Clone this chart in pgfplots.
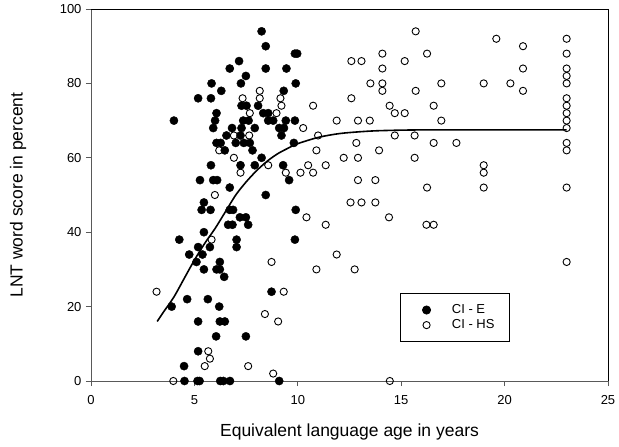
\documentclass[border=0pt]{standalone}
\usepackage{fontspec}
\setmainfont{Liberation Sans}
\usepackage{pgfplots}
\pgfplotsset{compat=1.18}
\begin{document}
\begin{tikzpicture}
\path[use as bounding box] (-91pt,-66pt) rectangle (528pt,381pt);
\begin{axis}[
 at={(0pt,0pt)}, anchor=south west,
 scale only axis, width=517pt, height=372pt,
 xmin=0, xmax=25, ymin=0, ymax=100,
 xtick={0,5,...,25}, ytick={0,20,...,100},
 tick align=outside, xtick pos=bottom, ytick pos=left,
 major tick length=5pt,
 tick style={black!65, line width=0.8pt},
 axis line style={black!65, line width=0.8pt},
 tick label style={font=\fontsize{13}{15}\selectfont},
 xticklabel style={yshift=-6pt},
 yticklabel style={xshift=-1pt},
 /pgf/number format/assume math mode=true,
 xlabel={Equivalent language age in years},
 ylabel={LNT word score in percent},
 label style={font=\fontsize{17.5}{20}\selectfont},
 xlabel style={at={(axis description cs:0.5,-0.1371)}, anchor=center},
 ylabel style={at={(axis description cs:-0.1412,0.5)}, anchor=center},
 clip=false,
 legend style={at={(axis cs:14.93,23.7)}, anchor=north west, draw=black, line width=0.8pt,
   font=\fontsize{13}{15}\selectfont, inner xsep=13pt, inner ysep=9.5pt, row sep=0.5pt,
   /tikz/every odd column/.append style={column sep=10pt}},
 legend cell align=left,
 legend image code/.code={\path (0pt,0pt) (26pt,0pt); \draw[#1] plot coordinates {(13pt,0pt)};},
]
% CI - E (filled)
\addplot[only marks, mark=*, mark size=4.1pt, mark options={fill=black, draw=black}] coordinates {
(5.83,80) (6.3,78) (5.18,76) (5.8,76) (6.07,72) (4.01,70) (6.0,70)
(5.91,68) (6.07,64) (6.27,64) (5.8,58) (5.27,54) (5.91,54) (6.1,54)
(5.46,48) (5.35,46) (5.78,46) (5.46,40) (4.27,38) (5.18,36) (5.75,36)
(4.75,34) (5.39,34) (5.1,32) (5.46,30) (6.07,30) (6.23,30) (3.9,20)
(4.65,22) (5.65,22) (6.2,20) (5.18,16) (6.23,16) (6.47,16) (6.05,12)
(5.18,8) (4.5,4) (4.52,0) (5.15,0) (5.25,0) (6.25,0) (6.4,0) (6.72,0) (9.1,0)
(8.25,94) (8.45,90) (9.86,88) (9.97,88) (7.16,86) (6.71,84) (8.45,84) (9.45,84)
(7.49,82) (7.25,80) (9.9,80) (9.32,78) (7.28,74) (7.52,74) (8.08,74)
(8.33,72) (8.57,72) (7.36,70) (7.62,70) (8.57,70) (8.81,70) (9.42,70) (9.86,70)
(6.82,68) (7.28,68) (7.92,68) (9.1,68) (9.33,68)
(9.21,66) (6.55,66) (7.23,66) (7.0,64) (7.39,64) (7.68,64) (9.81,64)
(6.47,62) (7.81,62) (8.25,60) (7.23,58) (7.92,58) (9.29,58) (9.58,54)
(6.71,52) (8.45,50) (6.71,46) (6.87,46) (9.9,46) (7.2,44) (7.49,44)
(6.63,42) (6.84,42) (7.6,42) (7.04,38) (9.86,38) (7.04,36)
(6.23,32) (6.44,28) (8.73,24) (7.49,12)
};
\addlegendentry{CI - E}
% CI - HS (open)
\addplot[only marks, mark=o, mark size=3.6pt, mark options={draw=black, fill=white, line width=0.9pt}] coordinates {
(6.2,62) (5.99,50) (5.83,38) (3.17,24) (5.67,8) (5.75,6) (5.5,4) (3.98,0)
(8.16,78) (7.33,76) (8.16,76) (9.16,76) (9.21,74) (10.74,74) (7.68,72) (8.97,72)
(11.88,70) (10.26,68) (10.98,66) (6.91,66) (7.65,66) (10.9,62) (6.91,60)
(8.57,58) (10.5,58) (11.35,58) (7.23,56) (9.42,56) (10.13,56) (10.74,56)
(10.42,44) (11.35,42)
(8.73,32) (10.9,30) (11.88,34) (9.32,24) (8.41,18) (9.05,16) (7.6,4) (8.81,2)
(15.7,94) (14.09,88) (16.25,88) (12.59,86) (13.08,86) (15.17,86) (14.09,84)
(13.51,80) (14.09,80) (14.09,78) (15.7,78) (16.94,80) (12.59,76)
(14.44,74) (14.69,72) (15.17,72) (16.57,74) (12.91,70) (13.48,70) (16.94,70)
(14.69,66) (15.65,66) (12.83,64) (16.57,64) (17.67,64) (13.93,62)
(12.22,60) (12.91,60) (15.65,60) (12.91,54) (13.75,54) (16.25,52)
(12.55,48) (13.08,48) (13.75,48) (14.41,44) (16.22,42) (16.57,42)
(12.75,30) (14.45,0)
(19.6,92) (20.89,90) (20.89,84) (18.99,80) (20.28,80) (20.89,78)
(18.99,58) (18.99,56) (18.99,52)
(23,92) (23,88) (23,84) (23,82) (23,80) (23,76) (23,74) (23,72) (23,70)
(23,68) (23,64) (23,62) (23,52) (23,32)
};
\addlegendentry{CI - HS}
% fitted curve
\addplot[black, line width=1.6pt, smooth, forget plot] coordinates {
(3.2,16) (3.5,18.5) (4,22.5) (4.5,27.5) (5,32.5) (5.5,37) (6,41) (6.5,45.5)
(7,50) (7.5,53.5) (8,56.5) (8.5,59) (9,61) (9.5,62.5) (10,63.8) (11,65.5)
(12,66.5) (13,67) (14,67.3) (16,67.5) (20,67.5) (23,67.5)
};
\draw[black, line width=0.8pt] (rel axis cs:0,1) -- (rel axis cs:1,1) -- (rel axis cs:1,0);
\end{axis}
\end{tikzpicture}
\end{document}
